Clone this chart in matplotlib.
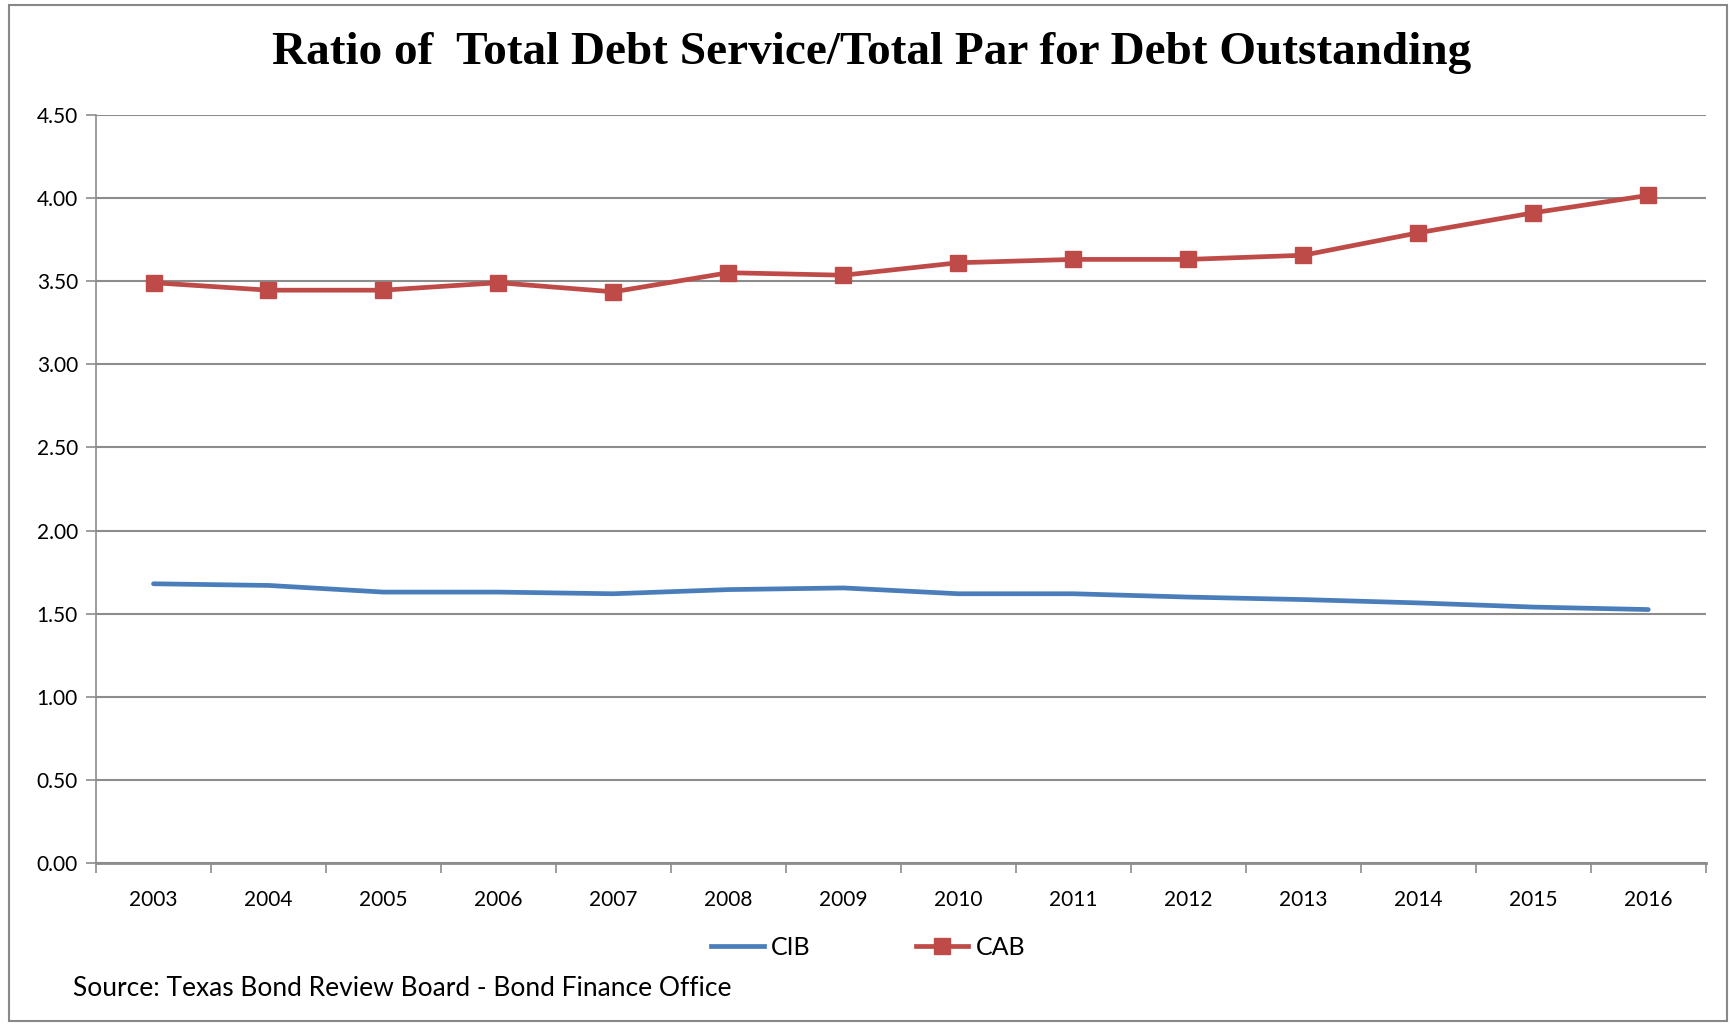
import matplotlib.pyplot as plt
from matplotlib.patches import Rectangle
from matplotlib.lines import Line2D

years = ['2003', '2004', '2005', '2006', '2007', '2008', '2009',
         '2010', '2011', '2012', '2013', '2014', '2015', '2016']
cib = [1.68, 1.67, 1.63, 1.63, 1.62, 1.645, 1.655,
       1.62, 1.62, 1.60, 1.585, 1.565, 1.54, 1.525]
cab = [3.49, 3.445, 3.445, 3.49, 3.435, 3.55, 3.535,
       3.61, 3.63, 3.63, 3.655, 3.79, 3.91, 4.015]
yticks = [0.0, 0.5, 1.0, 1.5, 2.0, 2.5, 3.0, 3.5, 4.0, 4.5]

blue = '#4A7EBB'
red = '#BE4B48'
grid_c = '#8C8C8C'
sans = ['Lato', 'DejaVu Sans']

fig = plt.figure(figsize=(17.3, 10.24), dpi=100)
ax = fig.add_axes([0.0555, 0.157, 0.9305, 0.731])

x = list(range(len(years)))
ax.plot(x, cib, color=blue, lw=3.4, solid_capstyle='round', zorder=3)
ax.plot(x, cab, color=red, lw=3.4, marker='s', markersize=12,
        markeredgecolor=red, zorder=4)

ax.set_xlim(-0.5, len(years) - 0.5)
ax.set_ylim(0, 4.5)
ax.set_yticks(yticks)
ax.set_yticklabels(['%.2f' % v for v in yticks], fontfamily=sans, fontsize=15)
ax.set_xticks(x)
ax.set_xticklabels(years, fontfamily=sans, fontsize=15)
ax.set_xticks([i - 0.5 for i in range(len(years) + 1)], minor=True)
ax.tick_params(axis='x', which='major', length=0, pad=19)
ax.tick_params(axis='x', which='minor', length=7, width=1.2, color=grid_c, direction='out')
ax.tick_params(axis='y', length=7, width=1.2, color=grid_c, pad=6)

ax.grid(axis='y', color=grid_c, lw=1.5, zorder=1)
ax.set_axisbelow(True)
for s in ['top', 'right']:
    ax.spines[s].set_visible(False)
ax.spines['left'].set_color(grid_c)
ax.spines['left'].set_linewidth(1.2)
ax.spines['bottom'].set_color(grid_c)
ax.spines['bottom'].set_linewidth(2)

fig.text(0.504, 0.948, 'Ratio of  Total Debt Service/Total Par for Debt Outstanding',
         ha='center', va='center', fontsize=34, fontweight='bold',
         fontfamily='Liberation Serif')

handles = [Line2D([], [], color=blue, lw=3.4),
           Line2D([], [], color=red, lw=3.4, marker='s', markersize=12)]
fig.legend(handles, ['CIB', 'CAB'], loc='center', bbox_to_anchor=(0.502, 0.075),
           ncol=2, frameon=False, prop={'family': sans, 'size': 18},
           handlelength=2.1, handletextpad=0.3, columnspacing=4.2)

fig.text(0.042, 0.035, 'Source: Texas Bond Review Board - Bond Finance Office',
         fontsize=19, fontfamily=sans, ha='left', va='center')

fig.patches.append(Rectangle((0.005, 0.003), 0.993, 0.992, transform=fig.transFigure,
                             fill=False, edgecolor='#888888', lw=1.5))

fig.savefig('out.png', dpi=100)
